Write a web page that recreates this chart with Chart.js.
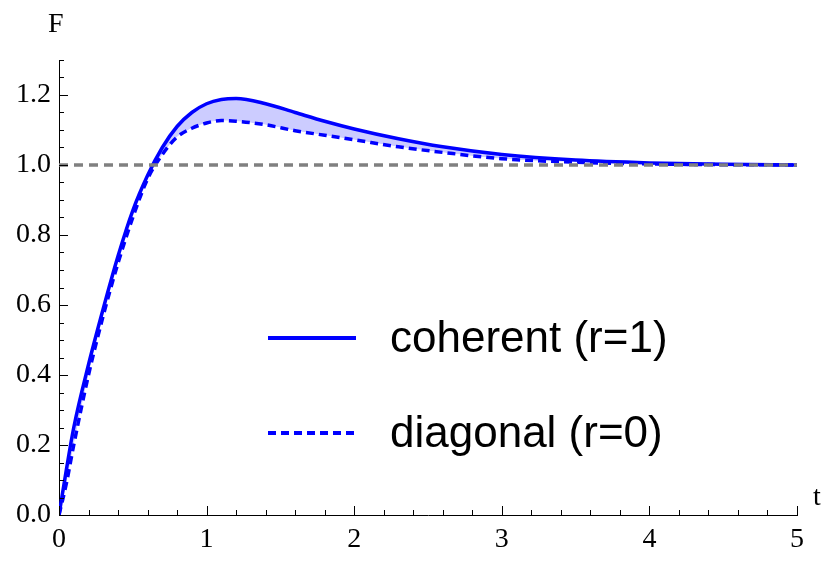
<!DOCTYPE html>
<html><head><meta charset="utf-8">
<script src="https://cdn.jsdelivr.net/npm/chart.js@4.4.0/dist/chart.umd.min.js"></script>
<style>html,body{margin:0;padding:0;background:#fff}#c{display:block}</style>
</head><body>
<div style="width:830px;height:572px"><canvas id="c"></canvas></div>
<script>
const tVals = [0,0.05,0.1,0.2,0.3,0.4,0.5,0.6,0.7,0.8,0.9,1.0,1.1,1.2,1.4,1.6,1.8,2.0,2.3,2.6,3.0,3.5,4.0,4.5,5.0];
const coherent = [0,0.13,0.25,0.43,0.59,0.74,0.87,0.97,1.05,1.11,1.15,1.175,1.187,1.19,1.175,1.15,1.125,1.103,1.075,1.052,1.03,1.014,1.006,1.002,1.0];
const diagonal = [0,0.09,0.2,0.40,0.57,0.72,0.85,0.96,1.03,1.08,1.105,1.12,1.127,1.125,1.115,1.098,1.085,1.072,1.052,1.036,1.018,1.008,1.003,1.001,1.0];
const refLine = [1.0, 1.0];
const refT = [0, 5];
const labels = ['coherent (r=1)', 'diagonal (r=0)'];

const pts = (xs, ys) => xs.map((x, i) => ({x, y: ys[i]}));
const serif = '"Liberation Serif", "DejaVu Serif", serif';
const sans = '"Liberation Sans", Arial, sans-serif';

const deco = {
  id: 'deco',
  afterDraw(chart) {
    const {ctx, chartArea: a, scales: {x, y}} = chart;
    ctx.save();
    ctx.strokeStyle = '#000'; ctx.lineWidth = 1;
    // inward ticks
    for (let v = 0; v <= 5.0001; v += 0.2) {
      const px = Math.round(x.getPixelForValue(v)) + 0.5;
      const major = Math.abs(v - Math.round(v)) < 1e-6;
      ctx.beginPath(); ctx.moveTo(px, a.bottom); ctx.lineTo(px, a.bottom - (major ? 9 : 5)); ctx.stroke();
    }
    for (let v = 0; v <= 1.30001; v += 0.05) {
      const py = Math.round(y.getPixelForValue(v)) + 0.5;
      const major = Math.abs(v * 5 - Math.round(v * 5)) < 1e-6;
      ctx.beginPath(); ctx.moveTo(a.left, py); ctx.lineTo(a.left + (major ? 9 : 5), py); ctx.stroke();
    }
    // axis titles
    ctx.fillStyle = '#000'; ctx.font = '28px ' + serif;
    ctx.textAlign = 'left'; ctx.textBaseline = 'alphabetic';
    ctx.fillText('F', 48, 32);
    ctx.fillText('t', 813, 505);
    // legend
    const items = [
      {ds: chart.data.datasets[1], yy: 338},
      {ds: chart.data.datasets[2], yy: 433}
    ];
    ctx.font = '44px ' + sans;
    ctx.textBaseline = 'middle';
    items.forEach(it => {
      ctx.strokeStyle = it.ds.borderColor; ctx.lineWidth = 4;
      ctx.setLineDash(it.ds.borderDash || []);
      ctx.beginPath(); ctx.moveTo(268, it.yy); ctx.lineTo(356, it.yy); ctx.stroke();
      ctx.setLineDash([]);
      ctx.fillStyle = '#000';
      ctx.fillText(it.ds.label, 390, it.yy + 2);
    });
    ctx.restore();
  }
};

new Chart(document.getElementById('c'), {
  type: 'line',
  data: {
    datasets: [
      {label: 'ref', data: pts(refT, refLine), borderColor: '#808080', borderWidth: 3.5, borderDash: [9, 6], pointRadius: 0, fill: false},
      {label: labels[0], data: pts(tVals, coherent), borderColor: '#0000ff', borderWidth: 3.5, pointRadius: 0,
        cubicInterpolationMode: 'monotone', fill: {target: '+1', above: 'rgba(0,0,255,0.2)', below: 'rgba(0,0,0,0)'}},
      {label: labels[1], data: pts(tVals, diagonal), borderColor: '#0000ff', borderWidth: 3.5, borderDash: [8, 5], pointRadius: 0,
        cubicInterpolationMode: 'monotone', fill: false}
    ]
  },
  options: {
    responsive: true, maintainAspectRatio: false, animation: false,
    layout: {padding: {left: 0, right: 33, top: 60, bottom: 0}},
    plugins: {legend: {display: false}, tooltip: {enabled: false}},
    scales: {
      x: {type: 'linear', min: 0, max: 5,
        grid: {display: false, drawTicks: false}, border: {display: true, color: '#000', width: 1},
        ticks: {stepSize: 1, color: '#000', font: {family: serif, size: 28}, padding: 8, maxRotation: 0},
        afterFit: s => { s.height = 57; }},
      y: {min: 0, max: 1.3,
        grid: {display: false, drawTicks: false}, border: {display: true, color: '#000', width: 1},
        ticks: {stepSize: 0.2, color: '#000', font: {family: serif, size: 28}, padding: 8,
          callback: v => (Math.abs(v * 5 - Math.round(v * 5)) < 1e-6) ? Number(v).toFixed(1) : ''},
        afterFit: s => { s.width = 59; }}
    }
  },
  plugins: [deco]
});
</script>
</body></html>
